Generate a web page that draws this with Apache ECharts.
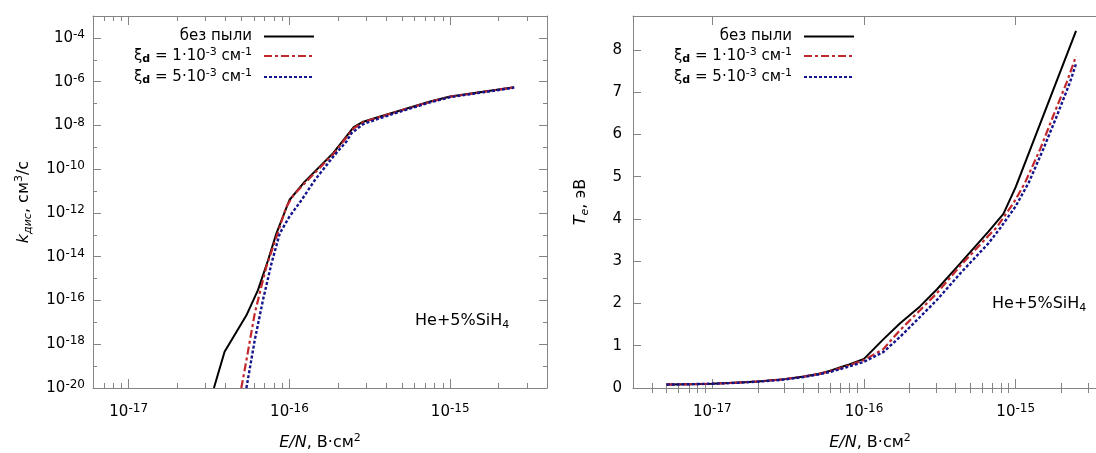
<!DOCTYPE html>
<html>
<head>
<meta charset="utf-8">
<script src="https://cdn.jsdelivr.net/npm/echarts@6/dist/echarts.min.js"></script>
<style>
  html, body { margin: 0; padding: 0; background: #fff; }
  #chart { width: 1096px; height: 453px; }
</style>
</head>
<body>
<div id="chart"></div>
<script>
// Series names (legend entries)
const seriesNames = ['без пыли', 'ξd = 1·10-3 см-1', 'ξd = 5·10-3 см-1'];

// Dissociation rate constant k_dis (cm^3/s) versus reduced field E/N (V·cm^2)
const kNoDust = [
  [3.39e-17, 1e-20], [3.95e-17, 4.5e-19], [5.40e-17, 2.1e-17], [6.37e-17, 2.95e-16],
  [7.36e-17, 6.9e-15], [8.30e-17, 1.17e-13], [1.0e-16, 3.9e-12], [1.245e-16, 2.7e-11],
  [1.87e-16, 5.4e-10], [2.51e-16, 8.3e-9], [2.88e-16, 1.48e-8], [3.63e-16, 2.5e-8],
  [5.0e-16, 5.1e-8], [7.5e-16, 1.23e-7], [1.0e-15, 2.1e-7], [2.5e-15, 5.6e-7]
];
const kDust1 = [
  [5.02e-17, 1e-20], [5.40e-17, 1.86e-19], [6.08e-17, 2.5e-17], [6.68e-17, 4.2e-16],
  [7.19e-17, 3.5e-15], [8.30e-17, 8.1e-14], [9.57e-17, 1.9e-12], [1.06e-16, 6.5e-12],
  [1.245e-16, 2.3e-11], [1.87e-16, 4.8e-10], [2.51e-16, 7.4e-9], [2.88e-16, 1.4e-8],
  [3.63e-16, 2.4e-8], [5.0e-16, 4.95e-8], [7.5e-16, 1.2e-7], [1.0e-15, 2.05e-7], [2.5e-15, 5.5e-7]
];
const kDust5 = [
  [5.40e-17, 1e-20], [6.08e-17, 1.5e-18], [6.84e-17, 1.02e-16], [7.73e-17, 4.9e-15],
  [8.71e-17, 1.17e-13], [1.0e-16, 6.8e-13], [1.19e-16, 3.9e-12], [1.44e-16, 3.2e-11],
  [1.87e-16, 3.7e-10], [2.26e-16, 1.8e-9], [2.44e-16, 4.5e-9], [2.88e-16, 1.15e-8],
  [3.63e-16, 2.1e-8], [5.0e-16, 4.5e-8], [7.5e-16, 1.13e-7], [1.0e-15, 1.95e-7], [2.5e-15, 5.3e-7]
];

// Electron temperature Te (eV) versus E/N (V·cm^2)
const teNoDust = [
  [5e-18, 0.08], [7e-18, 0.09], [1e-17, 0.10], [1.5e-17, 0.13], [2e-17, 0.155], [3e-17, 0.21],
  [4e-17, 0.27], [5e-17, 0.33], [6e-17, 0.41], [7e-17, 0.49], [8e-17, 0.56], [1e-16, 0.69],
  [1.34e-16, 1.15], [1.73e-16, 1.53], [2.34e-16, 1.93], [3.02e-16, 2.33], [4.31e-16, 2.95],
  [6.61e-16, 3.70], [8.3e-16, 4.12], [1.0e-15, 4.75], [2.5e-15, 8.45]
];
const teDust1 = [
  [5e-18, 0.08], [7e-18, 0.09], [1e-17, 0.10], [1.5e-17, 0.13], [2e-17, 0.155], [3e-17, 0.21],
  [4e-17, 0.27], [5e-17, 0.33], [6e-17, 0.40], [7e-17, 0.47], [8e-17, 0.54], [1e-16, 0.66],
  [1.34e-16, 0.92], [1.73e-16, 1.37], [2.34e-16, 1.84], [3.02e-16, 2.24], [4.31e-16, 2.89],
  [6.61e-16, 3.60], [7.5e-16, 3.80], [9.66e-16, 4.37], [1.15e-15, 4.85], [1.45e-15, 5.65],
  [1.77e-15, 6.44], [2.17e-15, 7.23], [2.5e-15, 7.85]
];
const teDust5 = [
  [5e-18, 0.08], [7e-18, 0.09], [1e-17, 0.10], [1.5e-17, 0.125], [2e-17, 0.15], [3e-17, 0.20],
  [4e-17, 0.26], [5e-17, 0.32], [6e-17, 0.38], [7e-17, 0.45], [8e-17, 0.51], [1e-16, 0.62],
  [1.34e-16, 0.85], [1.73e-16, 1.21], [2.34e-16, 1.68], [3.02e-16, 2.08], [4.31e-16, 2.71],
  [6.61e-16, 3.42], [7.9e-16, 3.78], [1.0e-15, 4.30], [1.22e-15, 4.86], [1.52e-15, 5.65],
  [1.87e-15, 6.44], [2.28e-15, 7.23], [2.5e-15, 7.67]
];

// Tick values
const enLabelTicks = [1e-17, 1e-16, 1e-15];
const enMinorTicks = [
  4e-18, 5e-18, 6e-18, 7e-18, 8e-18, 9e-18,
  2e-17, 3e-17, 4e-17, 5e-17, 6e-17, 7e-17, 8e-17, 9e-17,
  2e-16, 3e-16, 4e-16, 5e-16, 6e-16, 7e-16, 8e-16, 9e-16,
  2e-15, 3e-15
];
const kMajorTicks = [1e-20, 1e-18, 1e-16, 1e-14, 1e-12, 1e-10, 1e-8, 1e-6, 1e-4];
const kMinorTicks = [1e-19, 1e-17, 1e-15, 1e-13, 1e-11, 1e-9, 1e-7, 1e-5];
const teTicks = [0, 1, 2, 3, 4, 5, 6, 7, 8];

const FONT = '"DejaVu Sans", sans-serif';
const GRAY = '#858585';
const INK = '#000';

const lineStyles = [
  { color: '#000000', width: 2, type: 'solid' },
  { color: '#c1272d', width: 2.2, type: [8, 3, 3, 3] },
  { color: '#14148c', width: 2.4, type: [3, 2] }
];

const tickRich = {
  b: { fontFamily: FONT, fontSize: 15, color: INK, lineHeight: 18 },
  s: { fontFamily: FONT, fontSize: 12, color: INK, lineHeight: 12, verticalAlign: 'top' }
};
const powLabel = v => '{b|10}{s|' + Math.round(Math.log10(v)) + '}';

const nameRich = {
  i: { fontFamily: FONT, fontSize: 16, fontStyle: 'italic', color: INK, lineHeight: 20 },
  n: { fontFamily: FONT, fontSize: 16, color: INK, lineHeight: 20 },
  sb: { fontFamily: FONT, fontSize: 11, fontStyle: 'italic', color: INK, lineHeight: 11, verticalAlign: 'bottom' },
  sp: { fontFamily: FONT, fontSize: 11, color: INK, lineHeight: 11, verticalAlign: 'top' }
};

const legendRich = {
  t: { fontFamily: FONT, fontSize: 15, color: INK, lineHeight: 18 },
  d: { fontFamily: FONT, fontSize: 11, fontWeight: 'bold', color: INK, lineHeight: 10, verticalAlign: 'bottom' },
  p: { fontFamily: FONT, fontSize: 11, color: INK, lineHeight: 11, verticalAlign: 'top' }
};
const legendText = {
  'без пыли': '{t|без пыли}',
  'ξd = 1·10-3 см-1': '{t|ξ}{d|d}{t| = 1·10}{p|-3}{t| см}{p|-1}',
  'ξd = 5·10-3 см-1': '{t|ξ}{d|d}{t| = 5·10}{p|-3}{t| см}{p|-1}'
};

const enName = '{i|E/N}{n|, В·см}{sp|2}';

// A frame side: an axis drawing the frame line, major ticks and (optionally) labels
function frameAxis(grid, position, base, extra) {
  return Object.assign({
    gridIndex: grid,
    position: position,
    axisLine: { show: true, onZero: false, lineStyle: { color: GRAY, width: 1 } },
    axisTick: { show: true, inside: true, length: 9, lineStyle: { color: GRAY, width: 1 } },
    axisLabel: { show: false },
    splitLine: { show: false },
    minorTick: { show: false },
    minorSplitLine: { show: false },
    silent: true
  }, base, extra || {});
}
// Short ticks only, laid over a frame side
function minorAxis(grid, position, base, values, len) {
  return Object.assign({
    gridIndex: grid,
    position: position,
    axisLine: { show: false },
    axisTick: { show: true, inside: true, length: len, customValues: values, lineStyle: { color: GRAY, width: 1 } },
    axisLabel: { show: false },
    splitLine: { show: false },
    silent: true
  }, base);
}

const enLeft = { type: 'log', logBase: 10, min: 6e-18, max: 4e-15 };
const enRight = { type: 'log', logBase: 10, min: 3e-18, max: 4e-15 };
const kScale = { type: 'log', logBase: 10, min: 1e-20, max: 1e-3 };
const teScale = { type: 'value', min: 0, max: 8.8 };

function enBottom(grid, scale) {
  return frameAxis(grid, 'bottom', scale, {
    axisTick: { show: true, inside: true, length: 9, customValues: enLabelTicks, lineStyle: { color: GRAY } },
    axisLabel: { show: true, customValues: enLabelTicks, formatter: powLabel, margin: 15, rich: tickRich },
    name: enName, nameLocation: 'middle', nameGap: 45, nameTextStyle: { rich: nameRich }
  });
}
function enTop(grid, scale) {
  return frameAxis(grid, 'top', scale, {
    axisTick: { show: true, inside: true, length: 9, customValues: enLabelTicks, lineStyle: { color: GRAY } }
  });
}

const xAxes = [
  enBottom(0, enLeft),
  minorAxis(0, 'bottom', enLeft, enMinorTicks, 5),
  enTop(0, enLeft),
  minorAxis(0, 'top', enLeft, enMinorTicks, 5),
  enBottom(1, enRight),
  minorAxis(1, 'bottom', enRight, enMinorTicks, 5),
  enTop(1, enRight),
  minorAxis(1, 'top', enRight, enMinorTicks, 5)
];

const yAxes = [
  frameAxis(0, 'left', kScale, {
    axisTick: { show: true, inside: true, length: 8, customValues: kMajorTicks, lineStyle: { color: GRAY } },
    axisLabel: { show: true, customValues: kMajorTicks, formatter: powLabel, margin: 8, rich: tickRich },
    name: '{i|k}{sb|дис}{n|, см}{sp|3}{n|/с}', nameLocation: 'middle', nameGap: 59, nameRotate: 90,
    nameTextStyle: { rich: nameRich }
  }),
  minorAxis(0, 'left', kScale, kMinorTicks, 4),
  frameAxis(0, 'right', kScale, {
    axisTick: { show: true, inside: true, length: 8, customValues: kMajorTicks, lineStyle: { color: GRAY } }
  }),
  minorAxis(0, 'right', kScale, kMinorTicks, 4),
  frameAxis(1, 'left', teScale, {
    axisTick: { show: true, inside: true, length: 8, customValues: teTicks, lineStyle: { color: GRAY } },
    axisLabel: { show: true, customValues: teTicks, margin: 11, fontFamily: FONT, fontSize: 15, color: INK },
    name: '{i|T}{sb|e}{n|, эВ}', nameLocation: 'middle', nameGap: 42, nameRotate: 90,
    nameTextStyle: { rich: nameRich }
  }),
  frameAxis(1, 'right', teScale, {
    axisTick: { show: true, inside: true, length: 8, customValues: teTicks, lineStyle: { color: GRAY } }
  })
];

function curve(i, data, xi, yi) {
  const ls = lineStyles[i];
  return {
    name: seriesNames[i], type: 'line', data: data,
    xAxisIndex: xi, yAxisIndex: yi,
    symbol: 'none', showSymbol: false, smooth: false, clip: true,
    color: ls.color,
    itemStyle: { color: ls.color },
    lineStyle: { color: ls.color, width: ls.width, type: ls.type },
    z: 2 + i
  };
}

function legendAt(right) {
  return {
    data: seriesNames, orient: 'vertical', align: 'right',
    right: right, top: 29, padding: 0, itemGap: 3,
    itemWidth: 50, itemHeight: 18, selectedMode: false,
    itemStyle: { opacity: 0 },
    formatter: n => legendText[n],
    textStyle: { fontFamily: FONT, fontSize: 15, color: INK, padding: [0, 7, 0, 0], rich: legendRich }
  };
}

const mixRich = {
  t: { fontFamily: FONT, fontSize: 16, color: INK, lineHeight: 20 },
  sub: { fontFamily: FONT, fontSize: 11, color: INK, lineHeight: 10, verticalAlign: 'bottom' }
};

const chart = echarts.init(document.getElementById('chart'), null, { renderer: 'canvas' });
chart.setOption({
  animation: false,
  backgroundColor: '#fff',
  grid: [
    { left: 93, top: 16, width: 454, height: 372, containLabel: false, outerBoundsMode: 'none' },
    { left: 633, top: 16, width: 474, height: 372, containLabel: false, outerBoundsMode: 'none' }
  ],
  xAxis: xAxes,
  yAxis: yAxes,
  legend: [legendAt(781), legendAt(241)],
  graphic: [
    { type: 'text', x: 415, y: 321, silent: true,
      style: { text: '{t|He+5%SiH}{sub|4}', rich: mixRich, verticalAlign: 'middle', align: 'left' } },
    { type: 'text', x: 992, y: 304, silent: true,
      style: { text: '{t|He+5%SiH}{sub|4}', rich: mixRich, verticalAlign: 'middle', align: 'left' } }
  ],
  series: [
    curve(0, kNoDust, 0, 0),
    curve(1, kDust1, 0, 0),
    curve(2, kDust5, 0, 0),
    curve(0, teNoDust, 4, 4),
    curve(1, teDust1, 4, 4),
    curve(2, teDust5, 4, 4)
  ]
});
</script>
</body>
</html>
